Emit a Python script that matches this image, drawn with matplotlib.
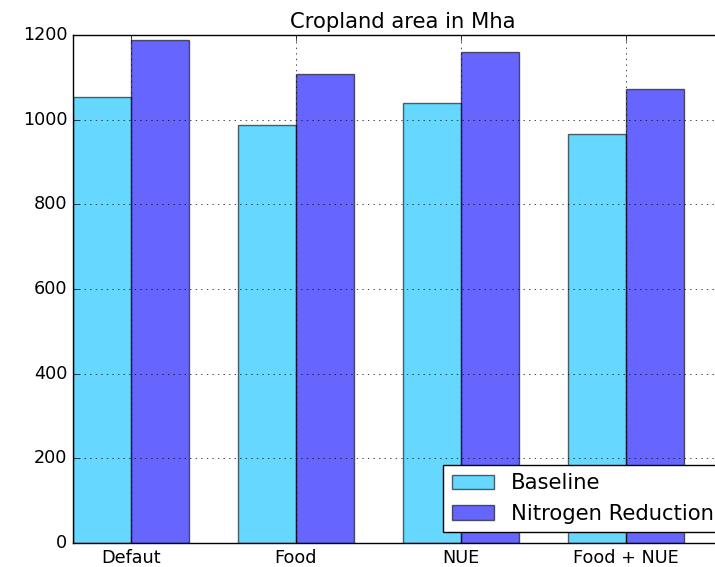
import numpy as np
import matplotlib

matplotlib.use("Agg")
import matplotlib.pyplot as plt

plt.style.use("classic")
plt.rcParams["font.size"] = 12.7

scenarios = ["Defaut", "Food", "NUE", "Food + NUE"]
baseline = [1054, 988, 1039, 966]
nitrogen_reduction = [1188, 1108, 1161, 1072]

bar_width = 0.35
index = np.arange(len(scenarios))

fig = plt.figure(figsize=(7.15, 5.67), dpi=100)
ax = fig.add_axes([73 / 715, 24 / 567, 660 / 715, 508 / 567])

ax.bar(index, baseline, bar_width, align="edge", color="deepskyblue",
       alpha=0.6, label="Baseline")
ax.bar(index + bar_width, nitrogen_reduction, bar_width, align="edge",
       color="b", alpha=0.6, label="Nitrogen Reduction")

ax.set_xticks(index + bar_width)
ax.set_xticklabels(scenarios)
ax.set_xlim(0, 4)
ax.set_ylim(0, 1200)
ax.set_title("Cropland area in Mha")
ax.grid(True)
ax.legend(loc="lower right")

plt.savefig("out.png", dpi=100)
plt.close(fig)
